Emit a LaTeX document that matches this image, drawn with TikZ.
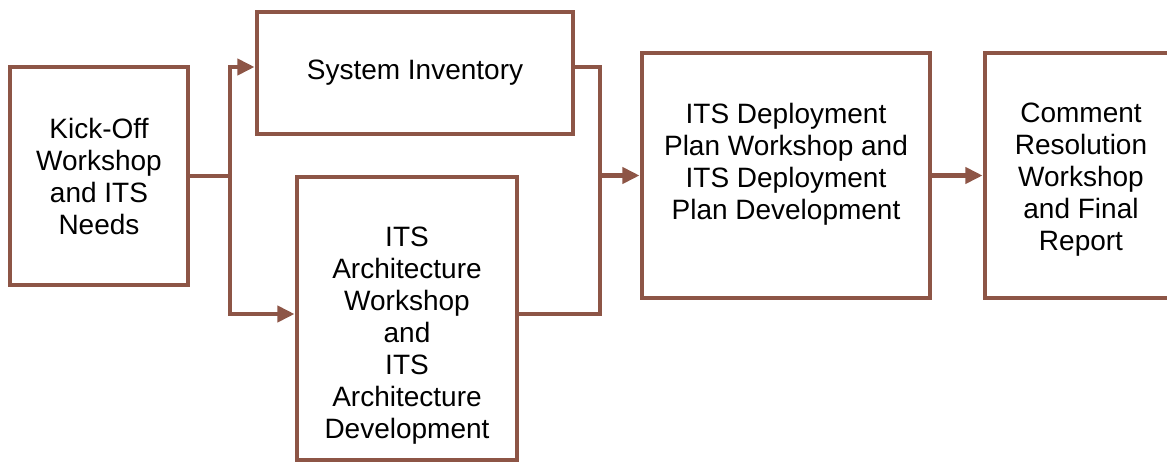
\documentclass[tikz,border=0pt]{standalone}
\usepackage{fontspec}
\setmainfont{Liberation Sans}
\usetikzlibrary{arrows.meta}
\definecolor{rust}{RGB}{141,85,70}
\begin{document}
\begin{tikzpicture}[x=0.75pt, y=-0.75pt,
  box/.style={draw=rust, line width=3.6pt, inner sep=0pt},
  txt/.style={align=center, font=\fontsize{21}{24}\selectfont},
  flow/.style={draw=rust, line width=3.6pt},
  arr/.style={flow, -{Triangle[length=13pt, width=12pt]}}]
\useasboundingbox (0,0) rectangle (1167,464);

\begin{scope}
\node[box, txt, minimum width=133.5pt, minimum height=163.5pt] (kick) at (99,176) {Kick-Off\\Workshop\\and ITS\\Needs};
\node[box, txt, minimum width=237pt, minimum height=91.5pt] (inv) at (415,73) {System Inventory};
\node[box, minimum width=165pt, minimum height=212.25pt] (arch) at (407,318.5) {};
\node[txt] (archtext) at (407,336) {ITS\\Architecture\\Workshop\\and\\ITS\\Architecture\\Development};
\node[box, minimum width=216pt, minimum height=183.75pt] (plan) at (786,175.5) {};
\node[txt] (plantext) at (786,164) {ITS Deployment\\Plan Workshop and\\ITS Deployment\\Plan Development};
\node[box, minimum width=144pt, minimum height=183.75pt] (report) at (1081,175.5) {};
\node[txt] (reporttext) at (1081,180) {Comment\\Resolution\\Workshop\\and Final\\Report};
\end{scope}

% split after kick-off
\coordinate (ltop) at (230,67);
\coordinate (lbot) at (230,314);
\draw[flow] (kick.east) -- (kick.east -| ltop);
\draw[arr] (kick.east -| ltop) -- (ltop) -- (ltop -| inv.west);
\draw[arr] (kick.east -| ltop) -- (lbot) -- (lbot -| arch.west);

% merge before deployment plan
\coordinate (rtop) at (600,67);
\coordinate (rbot) at (600,314);
\draw[flow] (rtop -| inv.east) -- (rtop) -- (rbot) -- (rbot -| arch.east);
\draw[arr] (plan.west -| rtop) -- (plan.west);
\draw[arr] (plan.east) -- (report.west);
\end{tikzpicture}
\end{document}
